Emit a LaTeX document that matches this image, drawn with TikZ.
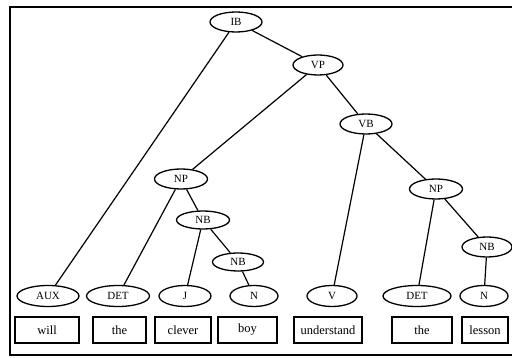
\documentclass[tikz,border=0pt]{standalone}
\usepackage{fontspec}
\setmainfont{Liberation Serif}
\usetikzlibrary{shapes.geometric}
\begin{document}
\begin{tikzpicture}[x=1pt,y=-1pt,
  cat/.style={draw, ellipse, line width=1.3pt, inner sep=0pt,
    minimum height=20pt, font=\fontsize{11}{13}\selectfont},
  word/.style={draw, rectangle, line width=1.2pt, inner sep=0pt,
    minimum height=26pt, font=\fontsize{12.5}{14}\selectfont},
  branch/.style={line width=1.2pt}]
\useasboundingbox (0,0) rectangle (512,358);
\fill[white] (0,0) rectangle (512,358);
% outer frame (right side runs past the page)
\draw[line width=2.2pt] (530,7) -- (10,7) -- (10,355) -- (530,355);

% phrase nodes
\node[cat, minimum width=52pt] (ib)  at (236,22)  {IB};
\node[cat, minimum width=50pt] (vp)  at (318,65)  {VP};
\node[cat, minimum width=52pt] (vb)  at (366,124) {VB};
\node[cat, minimum width=53pt] (npl) at (181,179) {NP};
\node[cat, minimum width=53pt, minimum height=18pt] (nba) at (203,220) {NB};
\node[cat, minimum width=51pt, minimum height=18pt] (nbb) at (238,262) {NB};
\node[cat, minimum width=53pt] (npr) at (436,189) {NP};
\node[cat, minimum width=50pt] (nbr) at (487,247) {NB};

% part-of-speech nodes
\node[cat, minimum width=62pt, minimum height=21pt] (aux)  at (48,296)  {AUX};
\node[cat, minimum width=63pt, minimum height=21pt] (detl) at (118,296) {DET};
\node[cat, minimum width=52pt, minimum height=21pt] (j)    at (185,296) {J};
\node[cat, minimum width=48pt, minimum height=21pt] (nl)   at (254,296) {N};
\node[cat, minimum width=50pt, minimum height=21pt] (v)    at (332,296) {V};
\node[cat, minimum width=68pt, minimum height=21pt] (detr) at (417,296) {DET};
\node[cat, minimum width=48pt, minimum height=21pt] (nr)   at (484,296) {N};

% words
\node[word, minimum width=64pt] (w1) at (47,330)  {will};
\node[word, minimum width=53pt] (w2) at (119.5,330) {the};
\node[word, minimum width=56pt] (w3) at (183,330) {clever};
\node[word, minimum width=59pt] (w4) at (247.5,330) {boy};
\node[word, minimum width=68pt] (w5) at (328,330) {understand};
\node[word, minimum width=60pt] (w6) at (422,330) {the};
\node[word, minimum width=46pt] (w7) at (485,330) {lesson};

% branches
\draw[branch] (ib) -- (aux);
\draw[branch] (ib) -- (vp);
\draw[branch] (vp) -- (npl);
\draw[branch] (vp) -- (vb);
\draw[branch] (vb) -- (v);
\draw[branch] (vb) -- (npr);
\draw[branch] (npl) -- (detl);
\draw[branch] (npl) -- (nba);
\draw[branch] (nba) -- (j);
\draw[branch] (nba) -- (nbb);
\draw[branch] (nbb) -- (nl);
\draw[branch] (npr) -- (detr);
\draw[branch] (npr) -- (nbr);
\draw[branch] (nbr) -- (nr);
\end{tikzpicture}
\end{document}
